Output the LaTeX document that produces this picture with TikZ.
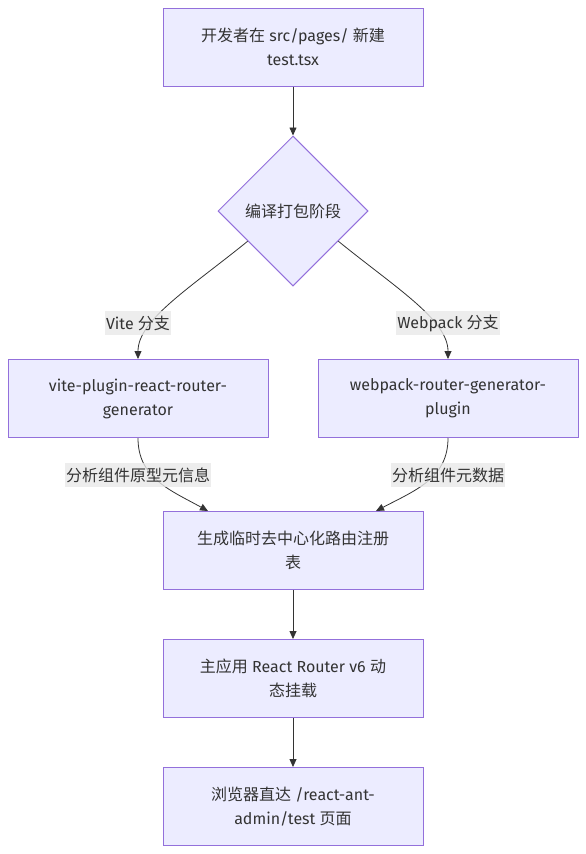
\documentclass[tikz,border=0pt]{standalone}
\usepackage{fontspec}
\setmainfont{Fira Sans}
\newfontfamily\cjk{Noto Sans CJK SC}
\usetikzlibrary{shapes.geometric,arrows.meta,calc}
\definecolor{boxfill}{HTML}{ECECFF}
\definecolor{boxline}{HTML}{9370DB}
\definecolor{edgecol}{HTML}{333333}
\definecolor{labbg}{HTML}{E8E8E8}
\definecolor{txt}{HTML}{333333}
\newcommand{\zh}[1]{{\cjk #1}}
\begin{document}
\begin{tikzpicture}[x=1pt,y=-1pt,
  every node/.style={text=txt,font=\fontsize{16}{24}\selectfont},
  procbox/.style={rectangle,draw=boxline,fill=boxfill,line width=1pt,minimum width=260pt,minimum height=78pt,align=center,inner sep=0pt},
  decbox/.style={diamond,draw=boxline,fill=boxfill,line width=1pt,minimum width=150pt,minimum height=150pt,inner sep=0pt,align=center},
  edgelab/.style={fill=labbg,fill opacity=0.8,text opacity=1,inner xsep=1pt,inner ysep=0pt,minimum height=24pt},
  flow/.style={draw=edgecol,line width=0.8pt,-{Triangle[length=8pt,width=7pt]}}
]
\useasboundingbox (0,0) rectangle (586,854);
\node[procbox] (n1) at (293,47) {\zh{开发者在} src/pages/ \zh{新建}\\test.tsx};
\node[decbox] (d) at (293,211) {\zh{编译打包阶段}};
\node[procbox] (v) at (138,398.5) {vite-plugin-react-router-\\generator};
\node[procbox] (w) at (448,398.5) {webpack-router-generator-\\plugin};
\node[procbox] (g) at (293,550.5) {\zh{生成临时去中心化路由注册}\\\zh{表}};
\node[procbox] (m) at (293,678.5) {\zh{主应用} React Router v6 \zh{动}\\\zh{态挂载}};
\node[procbox] (b) at (293,806.5) {\zh{浏览器直达} /react-ant-\\admin/test \zh{页面}};

\draw[flow] (n1.south) -- (d.north);
\draw[flow] ($(d.west)!0.4!(d.south)$) .. controls (190,288) and (138,320) .. (v.north);
\draw[flow] ($(d.east)!0.4!(d.south)$) .. controls (396,288) and (448,320) .. (w.north);
\draw[flow] (v.south) .. controls (138,478) and (170,490) .. ([xshift=-85pt]g.north);
\draw[flow] (w.south) .. controls (448,478) and (416,490) .. ([xshift=83pt]g.north);
\draw[flow] (g.south) -- (m.north);
\draw[flow] (m.south) -- (b.north);

\node[edgelab] (lv) at (138,323) {Vite \zh{分支}};
\node[edgelab] (lw) at (448,323) {Webpack \zh{分支}};
\node[edgelab] (la) at (138,475) {\zh{分析组件原型元信息}};
\node[edgelab] (lb) at (448,475) {\zh{分析组件元数据}};
\end{tikzpicture}
\end{document}
